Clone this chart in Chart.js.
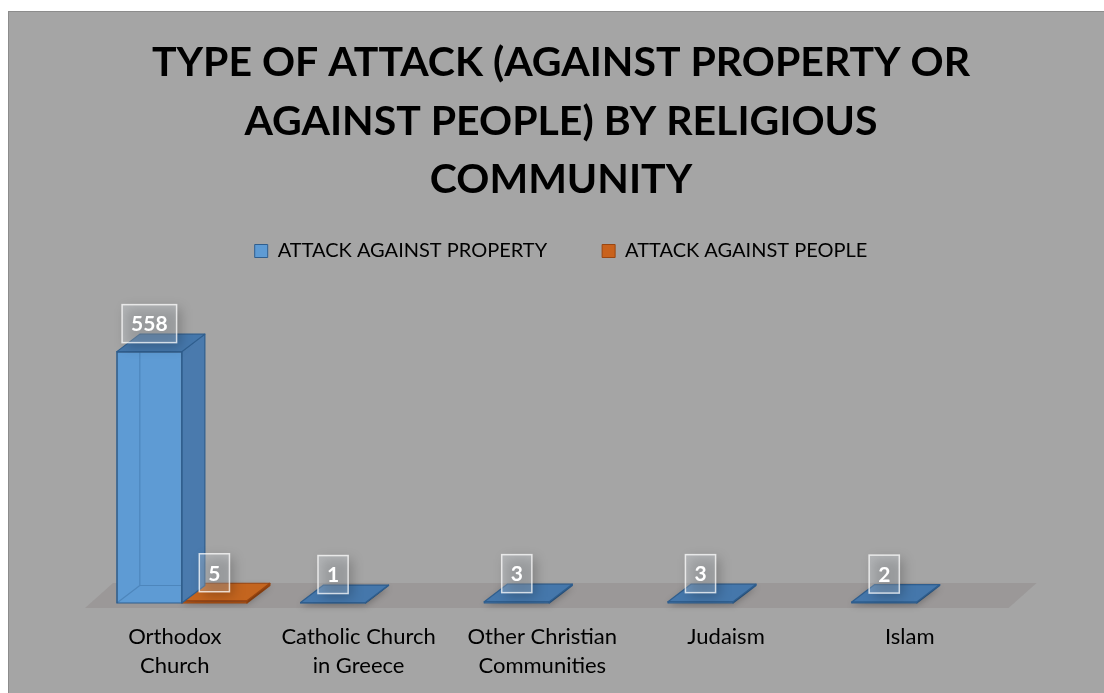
<!DOCTYPE html>
<html>
<head>
<meta charset="utf-8">
<script src="https://cdn.jsdelivr.net/npm/chart.js@4.4.1/dist/chart.umd.min.js"></script>
<style>
  html, body { margin: 0; padding: 0; background: #ffffff; width: 1104px; height: 693px; overflow: hidden; }
  #frame { position: absolute; left: 8px; top: 11px; width: 1096px; height: 682px;
           background: #a5a5a5; border-top: 1px solid #8c8c8c; border-left: 1px solid #8c8c8c; }
  canvas { display: block; }
</style>
</head>
<body>
<div id="frame"><canvas id="chart" width="1096" height="682"></canvas></div>
<script>
// Categories and series values
const categories = [["Orthodox", "Church"], ["Catholic Church", "in Greece"], ["Other Christian", "Communities"], "Judaism", "Islam"];
const seriesNames = ["ATTACK AGAINST PROPERTY", "ATTACK AGAINST PEOPLE"];
const propertyAttacks = [558, 1, 3, 3, 2];
const peopleAttacks = [5, null, null, null, null];
const titleLines = ["TYPE OF ATTACK (AGAINST PROPERTY OR", "AGAINST PEOPLE) BY RELIGIOUS", "COMMUNITY"];

// 3D look: extrusion offset of every bar
const DEPTH_X = 23;
const DEPTH_Y = -17.5;

const faceStyles = [
  { front: '#5e9bd4', side: '#4a7aad', top: '#4577ab', edge: '#2f5e8e', hidden: 'rgba(47,94,142,0.35)' },
  { front: '#c9621c', side: '#9e4b13', top: '#c4651f', edge: '#9a4610', hidden: 'rgba(154,70,16,0.35)' }
];

// Floor band under the bars
const floorPlugin = {
  id: 'floor',
  beforeDatasetsDraw(chart) {
    const { ctx, chartArea: a } = chart;
    const fy = a.bottom + 5, by = a.bottom - 20;
    ctx.save();
    ctx.fillStyle = '#9b9898';
    ctx.beginPath();
    ctx.moveTo(a.left - 5, fy);
    ctx.lineTo(a.right, fy);
    ctx.lineTo(a.right + 28, by);
    ctx.lineTo(a.left + 23, by);
    ctx.closePath();
    ctx.fill();
    ctx.restore();
  }
};

// Side and top faces for each bar, drawn right after its dataset
const bar3dPlugin = {
  id: 'bar3d',
  afterDatasetDraw(chart, args) {
    const ctx = chart.ctx;
    const st = faceStyles[args.index];
    const values = chart.data.datasets[args.index].data;
    args.meta.data.forEach((bar, i) => {
      if (values[i] == null) return;
      const { x, y, base, width } = bar.getProps(['x', 'y', 'base', 'width'], true);
      const l = x - width / 2, r = x + width / 2;
      const dx = DEPTH_X, dy = DEPTH_Y;
      ctx.save();
      ctx.lineJoin = 'round';
      ctx.lineWidth = 1.2;
      // edges seen through the translucent front
      ctx.strokeStyle = st.hidden;
      ctx.beginPath();
      ctx.moveTo(l, base); ctx.lineTo(l + dx, base + dy);
      ctx.lineTo(r + dx, base + dy);
      ctx.moveTo(l + dx, base + dy); ctx.lineTo(l + dx, y + dy);
      ctx.stroke();
      ctx.strokeStyle = st.edge;
      // right side
      ctx.fillStyle = st.side;
      ctx.beginPath();
      ctx.moveTo(r, base); ctx.lineTo(r + dx, base + dy);
      ctx.lineTo(r + dx, y + dy); ctx.lineTo(r, y);
      ctx.closePath();
      ctx.fill(); ctx.stroke();
      // top
      if (base - y < 4) {
        ctx.shadowColor = 'rgba(0,0,0,0.28)';
        ctx.shadowBlur = 7;
        ctx.shadowOffsetY = 3;
      }
      ctx.fillStyle = st.top;
      ctx.beginPath();
      ctx.moveTo(l, y); ctx.lineTo(l + dx, y + dy);
      ctx.lineTo(r + dx, y + dy); ctx.lineTo(r, y);
      ctx.closePath();
      ctx.fill();
      ctx.shadowColor = 'transparent';
      ctx.stroke();
      // front outline
      ctx.strokeRect(l, y, width, base - y);
      ctx.restore();
    });
  }
};

// Value labels in translucent boxes above each bar
const valueLabelPlugin = {
  id: 'valueLabels',
  afterDatasetsDraw(chart) {
    const ctx = chart.ctx;
    ctx.save();
    ctx.font = 'bold 21px Lato';
    ctx.textAlign = 'center';
    ctx.textBaseline = 'middle';
    chart.data.datasets.forEach((ds, di) => {
      const meta = chart.getDatasetMeta(di);
      meta.data.forEach((bar, i) => {
        const v = ds.data[i];
        if (v == null) return;
        const { x, y } = bar.getProps(['x', 'y'], true);
        const text = String(v);
        const w = ctx.measureText(text).width + 18;
        const h = 38;
        const cx = x, cy = y - 28;
        // soft shadow
        ctx.save();
        ctx.filter = 'blur(6px)';
        ctx.fillStyle = 'rgba(0,0,0,0.22)';
        ctx.fillRect(cx - w / 2 + 4, cy - h / 2 + 4, w, h);
        ctx.restore();
        ctx.fillStyle = 'rgba(225,232,240,0.25)';
        ctx.fillRect(cx - w / 2, cy - h / 2, w, h);
        ctx.strokeStyle = 'rgba(255,255,255,0.75)';
        ctx.lineWidth = 1.5;
        ctx.strokeRect(cx - w / 2, cy - h / 2, w, h);
        ctx.fillStyle = '#ffffff';
        ctx.fillText(text, cx, cy + 1);
      });
    });
    ctx.restore();
  }
};

new Chart(document.getElementById('chart'), {
  type: 'bar',
  data: {
    labels: categories,
    datasets: [
      { label: seriesNames[0], data: propertyAttacks, backgroundColor: faceStyles[0].front, borderColor: faceStyles[0].edge, borderWidth: 1 },
      { label: seriesNames[1], data: peopleAttacks, backgroundColor: faceStyles[1].front, borderColor: faceStyles[1].edge, borderWidth: 1 }
    ]
  },
  options: {
    responsive: false,
    animation: false,
    devicePixelRatio: 1,
    layout: { padding: { left: 81, right: 73, top: 0, bottom: -5 } },
    datasets: { bar: { categoryPercentage: 0.708, barPercentage: 1.0 } },
    scales: {
      x: {
        grid: { display: false, drawTicks: false },
        border: { display: false },
        ticks: { color: '#000', font: { family: 'Lato', size: 22, lineHeight: 29 / 22 }, padding: 19, labelOffset: -7, maxRotation: 0, autoSkip: false }
      },
      y: {
        position: 'right',
        min: 0, max: 737,
        grid: { display: false, drawTicks: false },
        border: { display: false },
        ticks: { display: false },
        afterFit(scale) { scale.width = 23.4; }
      }
    },
    plugins: {
      title: {
        display: true,
        text: titleLines,
        color: '#000',
        font: { family: 'Lato', size: 41, weight: 'bold', lineHeight: 58.5 / 41 },
        padding: { top: 22, bottom: -23.5 }
      },
      legend: {
        position: 'top',
        labels: { color: '#000', boxWidth: 13, boxHeight: 13, padding: 55, font: { family: 'Lato', size: 20 } }
      },
      tooltip: { enabled: false }
    }
  },
  plugins: [floorPlugin, bar3dPlugin, valueLabelPlugin]
});
</script>
</body>
</html>
